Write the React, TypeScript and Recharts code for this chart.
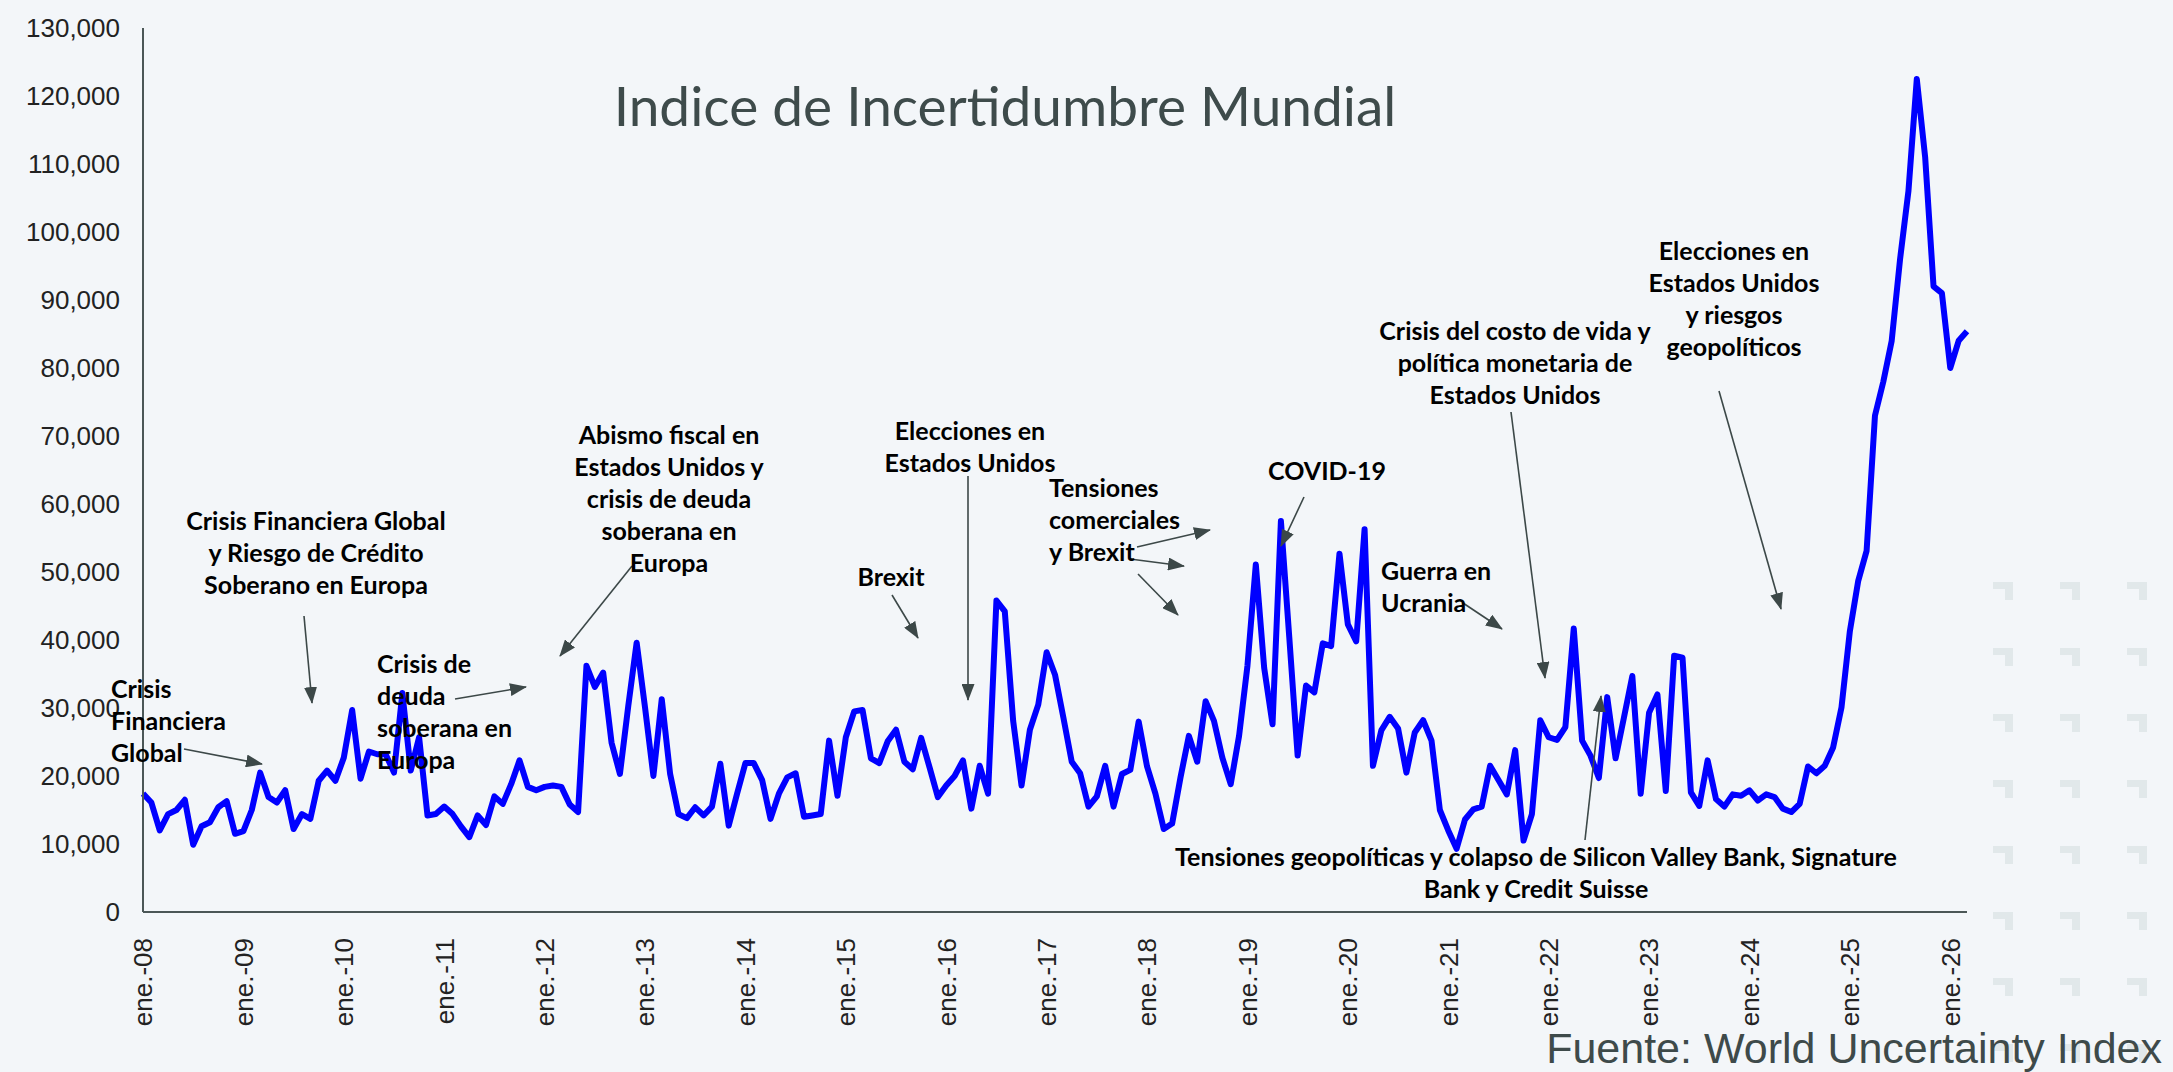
import React from 'react';
import { LineChart, Line, XAxis, YAxis } from 'recharts';

// Spanish month abbreviations used for the category labels
const monthNames = ['ene.', 'feb.', 'mar.', 'abr.', 'may.', 'jun.', 'jul.', 'ago.', 'sept.', 'oct.', 'nov.', 'dic.'];
const yearLabels = ['08', '09', '10', '11', '12', '13', '14', '15', '16', '17', '18', '19', '20', '21', '22', '23', '24', '25', '26'];
const yTicks = [0, 10000, 20000, 30000, 40000, 50000, 60000, 70000, 80000, 90000, 100000, 110000, 120000, 130000];

// World Uncertainty Index, monthly values
const wui2008 = [17400, 16100, 12000, 14400, 15000, 16500, 9900, 12600, 13200, 15400, 16300, 11500];
const wui2009 = [11900, 15000, 20500, 16900, 16100, 17900, 12200, 14400, 13700, 19300, 20800, 19300];
const wui2010 = [22700, 29700, 19600, 23600, 23200, 23200, 20500, 32200, 20800, 25700, 14200, 14400];
const wui2011 = [15500, 14400, 12600, 11000, 14200, 12800, 17000, 15900, 18800, 22300, 18400, 17900];
const wui2012 = [18400, 18600, 18400, 15800, 14700, 36200, 33100, 35200, 24900, 20300, 30300, 39600];
const wui2013 = [30100, 20000, 31300, 20300, 14400, 13800, 15400, 14200, 15500, 21800, 12700, 17400];
const wui2014 = [21900, 21900, 19400, 13700, 17400, 19800, 20400, 14000, 14200, 14400, 25200, 17100];
const wui2015 = [25700, 29500, 29700, 22600, 21900, 25100, 26800, 22100, 21000, 25600, 21300, 16900];
const wui2016 = [18600, 20000, 22300, 15200, 21500, 17400, 45800, 44200, 28100, 18600, 26800, 30500];
const wui2017 = [38200, 34900, 28600, 22100, 20400, 15500, 17000, 21500, 15500, 20300, 20900, 28000];
const wui2018 = [21400, 17400, 12200, 13000, 19800, 25900, 22100, 31000, 28100, 22700, 18800, 25900];
const wui2019 = [36200, 51100, 35900, 27600, 57500, 40400, 23000, 33300, 32300, 39500, 39100, 52700];
const wui2020 = [42300, 39800, 56300, 21500, 26700, 28700, 27000, 20500, 26400, 28200, 25200, 15000];
const wui2021 = [12000, 9300, 13600, 15100, 15500, 21500, 19400, 17300, 23800, 10500, 14400, 28200];
const wui2022 = [25700, 25300, 27200, 41700, 25200, 23000, 19700, 31600, 22600, 28600, 34700, 17400];
const wui2023 = [29300, 32000, 17800, 37700, 37400, 17600, 15600, 22300, 16600, 15500, 17300, 17100];
const wui2024 = [17900, 16400, 17300, 16900, 15200, 14700, 15900, 21400, 20400, 21500, 24200, 30100];
const wui2025 = [41300, 48700, 53100, 73000, 78000, 84000, 96000, 106000, 122500, 111000, 92000, 91000];
const wui2026 = [80000, 84000, 85400];

const wuiValues = [
  ...wui2008, ...wui2009, ...wui2010, ...wui2011, ...wui2012, ...wui2013, ...wui2014,
  ...wui2015, ...wui2016, ...wui2017, ...wui2018, ...wui2019, ...wui2020, ...wui2021,
  ...wui2022, ...wui2023, ...wui2024, ...wui2025, ...wui2026,
];

const categories = yearLabels
  .flatMap(y => monthNames.map(m => `${m}-${y}`))
  .slice(0, wuiValues.length);

const data = categories.map((mes, i) => ({ mes, wui: wuiValues[i] }));

const W = 2173;
const H = 1072;
const BG = '#f3f6f9';
const AXIS = '#4b5757';
const NOTE_FONT = 'Lato, "Open Sans", sans-serif';

// annotation text blocks (layout only)
const notes = [
  { lines: ['Crisis', 'Financiera', 'Global'], x: 111, y: 689, anchor: 'start' },
  { lines: ['Crisis Financiera Global', 'y Riesgo de Crédito', 'Soberano en Europa'], x: 316, y: 521, anchor: 'middle' },
  { lines: ['Crisis de', 'deuda', 'soberana en', 'Europa'], x: 377, y: 664, anchor: 'start' },
  { lines: ['Abismo fiscal en', 'Estados Unidos y', 'crisis de deuda', 'soberana en', 'Europa'], x: 669, y: 435, anchor: 'middle' },
  { lines: ['Brexit'], x: 891, y: 577, anchor: 'middle' },
  { lines: ['Elecciones en', 'Estados Unidos'], x: 970, y: 431, anchor: 'middle' },
  { lines: ['Tensiones', 'comerciales', 'y Brexit'], x: 1049, y: 488, anchor: 'start' },
  { lines: ['COVID-19'], x: 1327, y: 471, anchor: 'middle' },
  { lines: ['Guerra en', 'Ucrania'], x: 1381, y: 571, anchor: 'start' },
  { lines: ['Crisis del costo de vida y', 'política monetaria de', 'Estados Unidos'], x: 1515, y: 331, anchor: 'middle' },
  { lines: ['Elecciones en', 'Estados Unidos', 'y riesgos', 'geopolíticos'], x: 1734, y: 251, anchor: 'middle' },
  { lines: ['Tensiones geopolíticas y colapso de Silicon Valley Bank, Signature', 'Bank y Credit Suisse'], x: 1536, y: 857, anchor: 'middle' },
];

const arrows = [
  [184, 749, 262, 764],
  [304, 616, 312, 703],
  [455, 699, 526, 687],
  [632, 566, 560, 656],
  [892, 595, 918, 638],
  [968, 476, 968, 700],
  [1137, 547, 1210, 530],
  [1130, 559, 1184, 566],
  [1138, 574, 1178, 615],
  [1304, 497, 1281, 546],
  [1463, 603, 1502, 629],
  [1511, 412, 1545, 678],
  [1719, 391, 1781, 609],
  [1585, 840, 1601, 696],
];

const markerCols = [1993, 2060, 2127];
const markerRows = [582, 648, 714, 780, 846, 912, 978, 1044];

const XTick = (props: any) => {
  const { x, y, payload } = props;
  return (
    <g transform={`translate(${x},${y})`}>
      <text
        transform="rotate(-90)"
        x={-18}
        y={0}
        dy="0.36em"
        textAnchor="end"
        fontSize={26}
        fontFamily='"Liberation Sans", Arial, sans-serif'
        fill="#222"
      >
        {payload.value}
      </text>
    </g>
  );
};

export default function App() {
  return (
    <div style={{ position: 'absolute', left: 0, top: 0, width: W, height: H, background: BG, overflow: 'hidden' }}>
      {/* decorative corner marks on the right */}
      <svg width={W} height={H} style={{ position: 'absolute', left: 0, top: 0 }}>
        {markerRows.map(r =>
          markerCols.map(c => (
            <g key={`${r}-${c}`} fill="#e1e8ea">
              <rect x={c} y={r} width={20} height={7} />
              <rect x={c + 12} y={r} width={8} height={18} />
            </g>
          ))
        )}
      </svg>

      <div style={{ position: 'absolute', left: 0, top: 0 }}>
        <LineChart width={W} height={H} data={data} margin={{ top: 28, right: 206, bottom: 0, left: 0 }}>
          <XAxis
            dataKey="mes"
            interval={11}
            height={160}
            tick={<XTick />}
            tickLine={false}
            axisLine={{ stroke: AXIS, strokeWidth: 2 }}
          />
          <YAxis
            width={143}
            domain={[0, 130000]}
            ticks={yTicks}
            interval={0}
            tickLine={false}
            tickSize={0}
            tickMargin={23}
            axisLine={{ stroke: AXIS, strokeWidth: 2 }}
            tickFormatter={(v: number) => v.toLocaleString('en-US')}
            tick={{ fontSize: 26, fill: '#222', fontFamily: '"Liberation Sans", Arial, sans-serif' }}
          />
          <Line
            type="linear"
            dataKey="wui"
            stroke="#0000ff"
            strokeWidth={6}
            dot={false}
            strokeLinejoin="round"
            isAnimationActive={false}
          />
        </LineChart>
      </div>

      {/* title, annotations and source */}
      <svg width={W} height={H} style={{ position: 'absolute', left: 0, top: 0, pointerEvents: 'none' }}>
        <defs>
          <marker id="head" markerUnits="userSpaceOnUse" markerWidth={17} markerHeight={13} refX={16} refY={6.5} orient="auto">
            <path d="M0,0 L17,6.5 L0,13 z" fill="#3c4848" />
          </marker>
        </defs>

        <text x={1005} y={107} dy="0.35em" textAnchor="middle" fontSize={55} fontFamily={NOTE_FONT} fill="#3e4b4b">
          Indice de Incertidumbre Mundial
        </text>

        {arrows.map(([x1, y1, x2, y2], i) => (
          <line key={i} x1={x1} y1={y1} x2={x2} y2={y2} stroke="#3c4848" strokeWidth={1.6} markerEnd="url(#head)" />
        ))}

        {notes.map((n, i) => (
          <text key={i} textAnchor={n.anchor as any} fontSize={25} fontWeight={700} fontFamily={NOTE_FONT} fill="#000">
            {n.lines.map((l, j) => (
              <tspan key={j} x={n.x} y={n.y + j * 32} dy="0.35em">
                {l}
              </tspan>
            ))}
          </text>
        ))}

        <text x={2162} y={1063} textAnchor="end" fontSize={43} fontFamily='"Liberation Sans", Arial, sans-serif' fill="#3e4a4a">
          Fuente: World Uncertainty Index
        </text>
      </svg>
    </div>
  );
}
